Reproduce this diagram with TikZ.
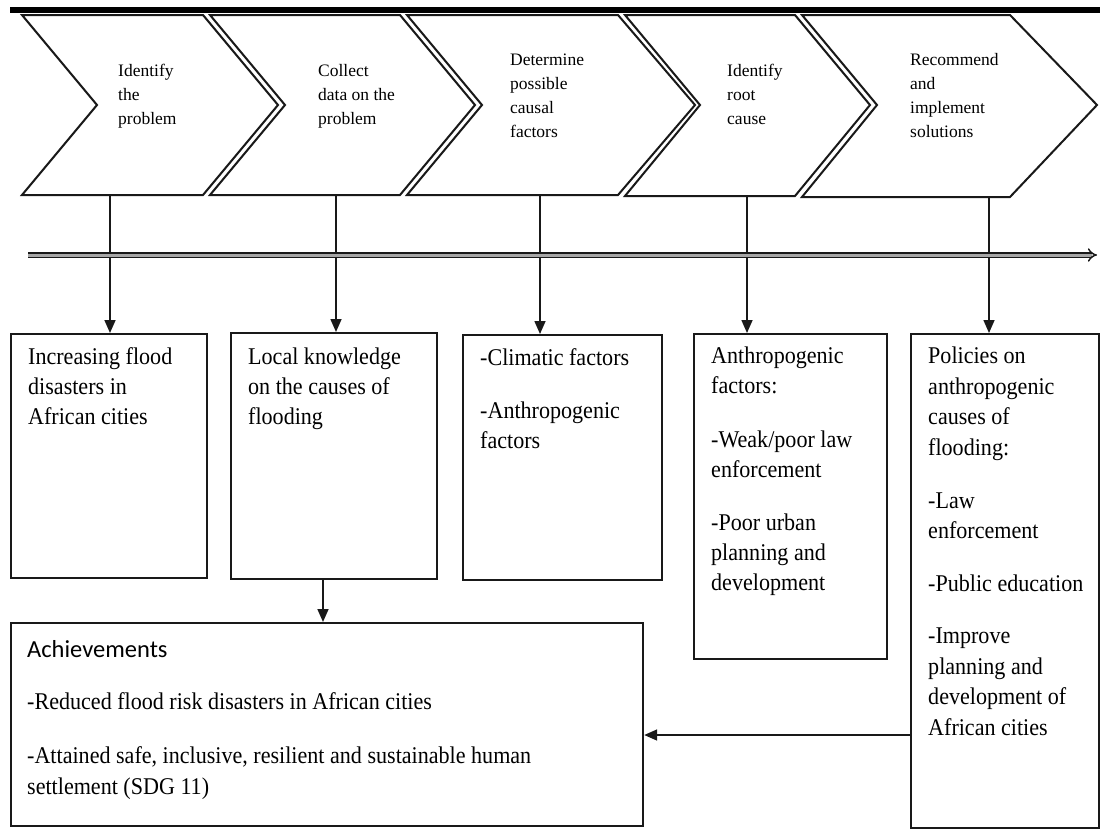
\documentclass[tikz,border=0pt]{standalone}
\usepackage{fontspec}
\setmainfont{Liberation Serif}
\newfontfamily\boxserif[FakeStretch=0.92]{Liberation Serif}
\newfontfamily\achsans{Carlito}
\usetikzlibrary{arrows.meta}
\begin{document}
\begin{tikzpicture}[x=1pt,y=-1pt,
  chev/.style={draw=black!90, line width=2pt, line join=miter, fill=white},
  box/.style={draw=black!90, line width=2.2pt, anchor=north west, inner sep=0pt, fill=white},
  conn/.style={line width=1.6pt, draw=black!90, -{Triangle[length=13pt,width=11pt]}},
  ctxt/.style={anchor=base west, inner sep=0pt, font=\fontsize{17.5}{24}\selectfont},
  btxt/.style={anchor=base west, inner sep=0pt, font=\boxserif\fontsize{24}{30}\selectfont},
  atxt/.style={anchor=base west, inner sep=0pt, font=\achsans\fontsize{24.5}{30}\selectfont}]
\useasboundingbox (0,0) rectangle (1100,830);
\fill[white] (0,0) rectangle (1100,830);
% top bar
\fill[black] (10,7) rectangle (1100,12.5);
% chevrons
\draw[chev] (22,15) -- (203,15) -- (278,105) -- (203,195) -- (22,195) -- (97,105) -- cycle;
\draw[chev] (210,15) -- (400,15) -- (475,105) -- (400,195) -- (210,195) -- (285,105) -- cycle;
\draw[chev] (407,15) -- (618,15) -- (695,105) -- (618,195) -- (407,195) -- (482,105) -- cycle;
\draw[chev] (625,15) -- (795,15) -- (870,105) -- (795,196) -- (625,196) -- (700,105) -- cycle;
\draw[chev] (802,15) -- (1010,15) -- (1097,105) -- (1010,197) -- (802,197) -- (877,105) -- cycle;
% chevron texts
\node[ctxt] (c1l1) at (118,76) {Identify};
\node[ctxt] (c1l2) at (118,100) {the};
\node[ctxt] (c1l3) at (118,124) {problem};
\node[ctxt] (c2l1) at (318,76) {Collect};
\node[ctxt] (c2l2) at (318,100) {data on the};
\node[ctxt] (c2l3) at (318,124) {problem};
\node[ctxt] (c3l1) at (510,65) {Determine};
\node[ctxt] (c3l2) at (510,89) {possible};
\node[ctxt] (c3l3) at (510,113) {causal};
\node[ctxt] (c3l4) at (510,137) {factors};
\node[ctxt] (c4l1) at (727,76) {Identify};
\node[ctxt] (c4l2) at (727,100) {root};
\node[ctxt] (c4l3) at (727,124) {cause};
\node[ctxt] (c5l1) at (910,65) {Recommend};
\node[ctxt] (c5l2) at (910,89) {and};
\node[ctxt] (c5l3) at (910,113) {implement};
\node[ctxt] (c5l4) at (910,137) {solutions};
% connector start points (chevron bottoms)
\coordinate (k1) at (110,195);
\coordinate (k2) at (336,195);
\coordinate (k3) at (540,195);
\coordinate (k4) at (747,196);
\coordinate (k5) at (989,197);
% boxes
\node[box, minimum width=196pt, minimum height=244pt] (b1) at (10,333) {};
\node[box, minimum width=206pt, minimum height=246pt] (b2) at (230,332) {};
\node[box, minimum width=199pt, minimum height=245pt] (b3) at (462,334) {};
\node[box, minimum width=193pt, minimum height=325pt] (b4) at (693,333) {};
\node[box, minimum width=188pt, minimum height=494pt] (b5) at (910,333) {};
\node[box, minimum width=632pt, minimum height=203pt] (ach) at (10,622) {};
% connectors
\draw[conn] (k1) -- (k1 |- b1.north);
\draw[conn] (k2) -- (k2 |- b2.north);
\draw[conn] (k3) -- (k3 |- b3.north);
\draw[conn] (k4) -- (k4 |- b4.north);
\draw[conn] (k5) -- (k5 |- b5.north);
\coordinate (k6) at (323,578);
\draw[conn] (k6) -- (k6 |- ach.north);
\coordinate (k7) at (910,735);
\draw[conn] (k7) -- (k7 -| ach.east);
% double time line
\coordinate (hs) at (28,255);
\coordinate (he) at (1097,255);
\draw[line width=1.5pt, draw=black!90, double=black!35, double distance=3pt, -{Implies[scale=1.3]}] (hs) -- (he);
% box texts
\node[btxt] (t1a) at (28,364) {Increasing flood};
\node[btxt] (t1b) at (28,394) {disasters in};
\node[btxt] (t1c) at (28,424) {African cities};
\node[btxt] (t2a) at (248,364) {Local knowledge};
\node[btxt] (t2b) at (248,394) {on the causes of};
\node[btxt] (t2c) at (248,424) {flooding};
\node[btxt] (t3a) at (480,365) {-Climatic factors};
\node[btxt] (t3b) at (480,418) {-Anthropogenic};
\node[btxt] (t3c) at (480,448) {factors};
\node[btxt] (t4a) at (711,363) {Anthropogenic};
\node[btxt] (t4b) at (711,393) {factors:};
\node[btxt] (t4c) at (711,447) {-Weak/poor law};
\node[btxt] (t4d) at (711,477) {enforcement};
\node[btxt] (t4e) at (711,530) {-Poor urban};
\node[btxt] (t4f) at (711,560) {planning and};
\node[btxt] (t4g) at (711,590) {development};
\node[btxt] (t5a) at (928,363) {Policies on};
\node[btxt] (t5b) at (928,394) {anthropogenic};
\node[btxt] (t5c) at (928,424) {causes of};
\node[btxt] (t5d) at (928,455) {flooding:};
\node[btxt] (t5e) at (928,508) {-Law};
\node[btxt] (t5f) at (928,538) {enforcement};
\node[btxt] (t5g) at (928,591) {-Public education};
\node[btxt] (t5h) at (928,643) {-Improve};
\node[btxt] (t5i) at (928,674) {planning and};
\node[btxt] (t5j) at (928,704) {development of};
\node[btxt] (t5k) at (928,735) {African cities};
\node[atxt] (tAa) at (27,657) {Achievements};
\node[btxt] (tAb) at (27,709) {-Reduced flood risk disasters in African cities};
\node[btxt] (tAc) at (27,763) {-Attained safe, inclusive, resilient and sustainable human};
\node[btxt] (tAd) at (27,794) {settlement (SDG 11)};
\end{tikzpicture}
\end{document}
